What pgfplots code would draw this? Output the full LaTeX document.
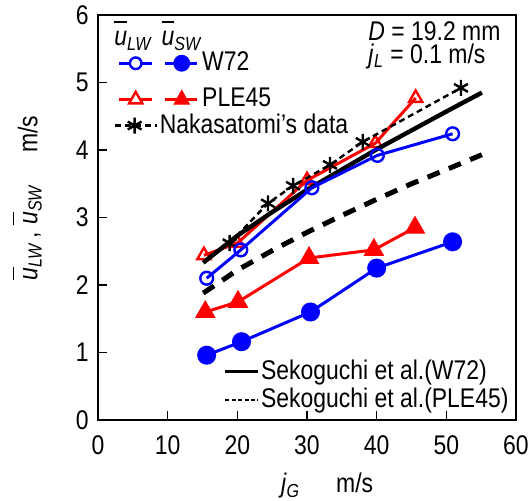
\documentclass[border=0pt]{standalone}
\usepackage{amsmath}
\usepackage{pgfplots}
\pgfplotsset{compat=1.18}
\usepackage{fontspec}
\setmainfont{Liberation Sans}[FakeStretch=0.85]
\newcommand{\ubar}[1]{$\overline{\vphantom{T}\text{\itshape u}}_{\text{\itshape #1}}$}
\pgfplotsset{base/.style={scale only axis, width=209pt, height=202.5pt,
  at={(49pt,40.5pt)}, anchor=south west, xmin=0, xmax=60, ymin=0, ymax=6}}
\begin{document}
\fontsize{13.5}{15}\selectfont
\begin{tikzpicture}[font=\fontsize{13.5}{15}\selectfont]
\path[use as bounding box] (0,0) rectangle (264.5pt,250.5pt);
\begin{axis}[base, clip mode=individual,
  axis line style={line width=1pt},
  tick align=inside, xtick pos=bottom, ytick pos=left,
  xtick={0,10,...,60}, ytick={0,1,...,6},
  major tick length=4.5pt, tick style={line width=0.8pt, black},
  /pgf/number format/assume math mode=true,
  tick label style={font=\fontsize{13.5}{15}\selectfont},
  xticklabel style={yshift=-3pt},
]
% Sekoguchi lines
\addplot[black, line width=2.5pt, dash pattern=on 6.5pt off 5pt] coordinates {
 (15.1,1.88) (20,2.22) (25,2.51) (30,2.78) (35,3.03) (40,3.27) (45,3.50) (50,3.71) (55.1,3.93)};
\addplot[red, line width=1.5pt, mark=triangle*, mark size=4.5pt] coordinates {
 (15.4,1.60) (20.1,1.75) (30.3,2.40) (39.6,2.52) (45.5,2.85)};
\addplot[blue, line width=1.5pt, mark=*, mark size=4pt] coordinates {
 (15.6,0.96) (20.6,1.16) (30.5,1.60) (40.0,2.25) (50.9,2.64)};
\addplot[red, line width=1.5pt, mark=triangle, mark size=3.8pt, mark options={solid, fill=white, line width=1.2pt}] coordinates {
 (15.2,2.44) (20.0,2.62) (30.0,3.55) (39.8,4.10) (45.6,4.77)};
\addplot[black, line width=2.2pt] coordinates {
 (15.1,2.33) (20,2.73) (25,3.08) (30,3.41) (35,3.71) (40,4.01) (45,4.29) (50,4.57) (55.1,4.85)};
\addplot[black, line width=1.2pt, dash pattern=on 3pt off 2pt, mark=asterisk, mark size=4pt, mark options={solid, line width=1.2pt}] coordinates {
 (18.9,2.62) (24.4,3.21) (28.0,3.47) (33.3,3.78) (38.0,4.12) (52.1,4.92)};
\addplot[blue, line width=1.5pt, mark=o, mark size=3.2pt, mark options={fill=white, line width=1.2pt}] coordinates {
 (15.6,2.10) (20.5,2.52) (30.7,3.44) (40.1,3.92) (50.9,4.24)};
% texts
\node[anchor=base west, inner sep=0pt] at (axis description cs:0.646,0.938) {\textit{D} = 19.2 mm};
\node[anchor=base west, inner sep=0pt] at (axis description cs:0.646,0.881) {\textit{j}\textsubscript{\textit{L}} = 0.1 m/s};
\node[anchor=base west, inner sep=0pt] at (axis description cs:0.038,0.924) {\ubar{LW}\hspace{5pt}\ubar{SW}};
\node[anchor=base, inner sep=0pt] at (axis description cs:0.548,-0.18) {\textit{j}\textsubscript{\textit{G}}\hspace{18pt}m/s};
\node[rotate=90, anchor=center, inner sep=0pt] at (axis description cs:-0.17,0.548) {\ubar{LW}\,,\;\ubar{SW}\hspace{16pt}m/s};
\end{axis}
% legend: W72 / PLE45
\begin{axis}[base, hide axis,
  legend style={at={(axis description cs:0.045,0.920)}, anchor=north west, draw=none, fill=none,
    inner sep=0pt, row sep=2.5pt, nodes={inner sep=2pt}},
  legend cell align=left]
\addlegendimage{legend image code/.code={
  \draw[blue, line width=1.5pt] (0pt,0pt) -- (16.5pt,0pt);
  \draw[blue, line width=1.5pt] (23pt,0pt) -- (39pt,0pt);
  \draw[blue, line width=1.2pt, fill=white] (8.5pt,0pt) circle (2.9pt);
  \fill[blue] (31.5pt,0pt) circle (4pt);}}
\addlegendentry{W72}
\addlegendimage{legend image code/.code={
  \draw[red, line width=1.5pt] (0pt,0pt) -- (16.5pt,0pt);
  \draw[red, line width=1.5pt] (23pt,0pt) -- (39pt,0pt);
  \draw[red, line width=1.2pt, fill=white] (8.5pt,3.6pt) -- (11.8pt,-2.2pt) -- (5.2pt,-2.2pt) -- cycle;
  \fill[red] (31.5pt,4.4pt) -- (35.4pt,-2.6pt) -- (27.6pt,-2.6pt) -- cycle;}}
\addlegendentry{PLE45}
\end{axis}
% legend: Nakasatomi
\begin{axis}[base, hide axis,
  legend style={at={(axis description cs:0.036,0.727)}, anchor=west, draw=none, fill=none,
    inner sep=0pt, nodes={inner sep=1pt}},
  legend cell align=left]
\addlegendimage{legend image code/.code={
  \draw[black, line width=1.2pt, dash pattern=on 3pt off 2pt] (0pt,0pt) -- (21pt,0pt);
  \draw[black, line width=1.2pt] plot[mark=asterisk, mark size=4pt] coordinates {(10pt,0pt)};}}
\addlegendentry{Nakasatomi’s data}
\end{axis}
% legend: Sekoguchi
\begin{axis}[base, hide axis,
  legend style={at={(axis description cs:0.30,0.085)}, anchor=west, draw=none, fill=none,
    inner sep=0pt, row sep=1.5pt, nodes={inner sep=0.5pt}},
  legend cell align=left]
\addlegendimage{legend image code/.code={
  \draw[black, line width=1.6pt] (0pt,0pt) -- (16.5pt,0pt);}}
\addlegendentry{Sekoguchi et al.(W72)}
\addlegendimage{legend image code/.code={
  \draw[black, line width=1.2pt, dash pattern=on 2pt off 1.2pt] (0pt,0pt) -- (16.5pt,0pt);}}
\addlegendentry{Sekoguchi et al.(PLE45)}
\end{axis}
\end{tikzpicture}
\end{document}
